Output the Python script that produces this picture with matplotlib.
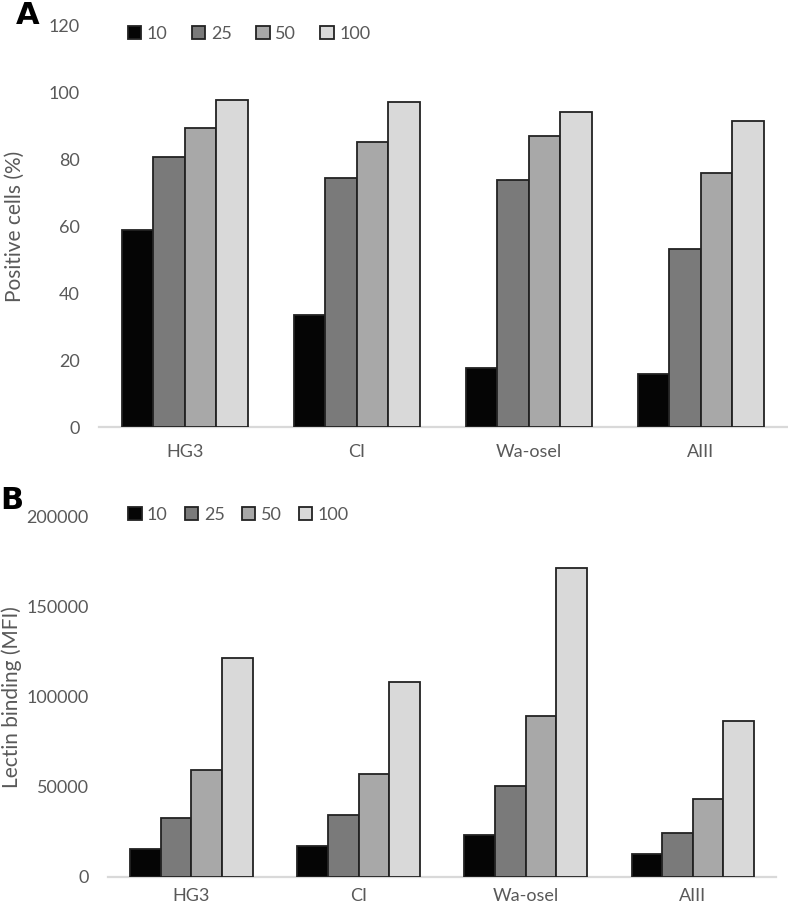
import matplotlib

matplotlib.use("Agg")
import matplotlib.pyplot as plt
import numpy as np

plt.rcParams["font.family"] = ["Lato", "DejaVu Sans"]

# ---------------------------------------------------------------------------
# Data
# ---------------------------------------------------------------------------
lectins = ["HG3", "CI", "Wa-osel", "AIII"]
concentrations = ["10", "25", "50", "100"]

# Panel A: positive cells (%)
positive_10 = [58.8, 33.4, 17.7, 15.9]
positive_25 = [80.6, 74.3, 73.9, 53.2]
positive_50 = [89.2, 85.0, 86.9, 75.8]
positive_100 = [97.6, 97.1, 94.1, 91.5]

# Panel B: lectin binding (MFI)
mfi_10 = [15500, 17000, 23500, 13000]
mfi_25 = [32600, 34600, 50700, 24600]
mfi_50 = [59400, 57200, 89600, 43200]
mfi_100 = [121500, 108500, 171500, 86500]

bar_colors = ["#050505", "#7a7a7a", "#a8a8a8", "#d9d9d9"]
text_grey = "#595959"


def _draw_panel(ax, series, yticks, ylabel, legend_anchor, col_space, xpad):
    """Grouped bars in Excel style: grey baseline, no gridlines."""
    x = np.arange(len(lectins))
    width = 0.183
    offsets = (np.arange(len(series)) - (len(series) - 1) / 2) * width
    for vals, off, col, lab in zip(series, offsets, bar_colors, concentrations):
        ax.bar(x + off, vals, width, color=col, edgecolor="#222222",
               linewidth=1.3, label=lab, zorder=3)

    ax.set_xlim(-0.5, len(lectins) - 0.5)
    ax.set_ylim(yticks[0], yticks[-1])
    ax.set_yticks(yticks)
    ax.set_xticks(x)
    ax.set_xticklabels(lectins)
    ax.tick_params(axis="both", length=0, labelsize=13, colors=text_grey)
    ax.tick_params(axis="x", pad=xpad)
    ax.tick_params(axis="y", pad=14)
    for side in ("top", "right", "left"):
        ax.spines[side].set_visible(False)
    ax.spines["bottom"].set_color("#d9d9d9")
    ax.spines["bottom"].set_linewidth(1.6)
    ax.set_ylabel(ylabel, fontsize=15, color=text_grey)

    leg = ax.legend(ncol=4, loc="center left", bbox_to_anchor=legend_anchor,
                    frameon=False, fontsize=13, handlelength=0.75,
                    handleheight=0.75, handletextpad=0.3,
                    columnspacing=col_space, borderpad=0, borderaxespad=0)
    for txt in leg.get_texts():
        txt.set_color(text_grey)
    return ax


fig = plt.figure(figsize=(7.88, 9.07), dpi=100)

ax_a = fig.add_axes([0.1256, 0.529, 0.873, 0.4432])
_draw_panel(ax_a, [positive_10, positive_25, positive_50, positive_100],
            np.arange(0, 121, 20), "Positive cells (%)", (0.042, 0.978),
            1.35, 12)
ax_a.yaxis.set_label_coords(5 / 788, 1 - 226 / 907, transform=fig.transFigure)
ax_a.yaxis.label.set_va("top")

ax_b = fig.add_axes([0.137, 0.0331, 0.848, 0.397])
_draw_panel(ax_b, [mfi_10, mfi_25, mfi_50, mfi_100],
            np.arange(0, 200001, 50000), "Lectin binding (MFI)", (0.03, 1.006),
            0.95, 8)
ax_b.yaxis.set_label_coords(1 / 788, 1 - 697 / 907, transform=fig.transFigure)
ax_b.yaxis.label.set_va("top")

fig.text(0.02, 0.983, "A", fontsize=22, fontweight="bold", va="center",
         family="DejaVu Sans")
fig.text(0.0, 0.448, "B", fontsize=22, fontweight="bold", va="center",
         family="DejaVu Sans")

fig.savefig("out.png", dpi=100)
